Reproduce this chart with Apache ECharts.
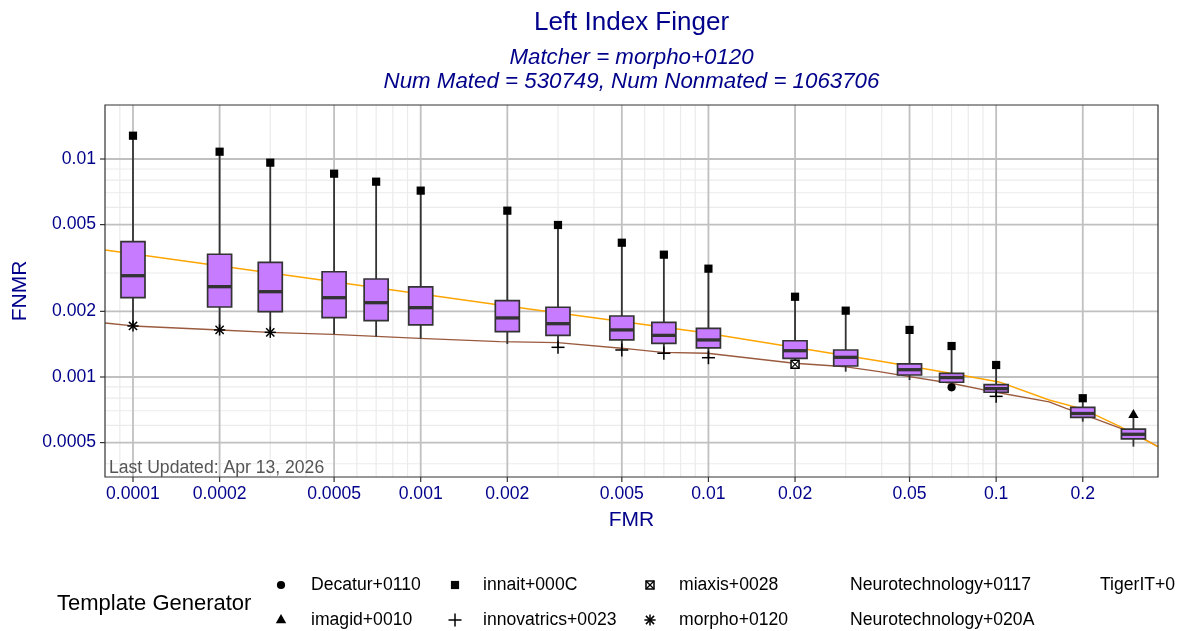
<!DOCTYPE html>
<html>
<head>
<meta charset="utf-8">
<script src="https://cdn.jsdelivr.net/npm/echarts@6/dist/echarts.min.js"></script>
<style>html,body{margin:0;padding:0;background:#fff}#c{width:1182px;height:631px}</style>
</head>
<body>
<div id="c"></div>
<script>
// ---------------- data ----------------
const fmrLevels  = [0.0001,0.0002,0.0003,0.0005,0.0007,0.001,0.002,0.003,0.005,0.007,0.01,0.02,0.03,0.05,0.07,0.1,0.2,0.3];
const fnmrMin    = [0.001714,0.001644,0.001603,0.00157,0.00153,0.0015,0.001417,0.001368,0.00133,0.001285,0.001226,0.001143,0.001058,0.000968,0.000897,0.000815,0.000624,0.000479];
const fnmrQ1     = [0.002311,0.002094,0.001993,0.001871,0.001813,0.001733,0.001614,0.001552,0.001479,0.001427,0.001359,0.001218,0.001123,0.001021,0.000946,0.000851,0.000653,0.00052];
const fnmrMedian = [0.002915,0.002596,0.002462,0.002311,0.002192,0.00208,0.001866,0.001756,0.001644,0.001552,0.001479,0.00132,0.001231,0.00108,0.000994,0.000884,0.00068,0.000546];
const fnmrQ3     = [0.004175,0.003656,0.003358,0.00304,0.002815,0.002588,0.002239,0.002089,0.001905,0.001782,0.00167,0.001466,0.00133,0.001148,0.00104,0.000922,0.000725,0.000577];
const fnmrMax    = [0.01279,0.0108,0.00962,0.008563,0.00787,0.00716,0.005794,0.004981,0.00413,0.00364,0.00314,0.002334,0.002015,0.001644,0.001387,0.001135,0.000799,0.00067];
const minGenerator = ['morpho+0120','morpho+0120','morpho+0120','','','','','innovatrics+0023','innovatrics+0023','innovatrics+0023','innovatrics+0023','miaxis+0028','','','Decatur+0110','innovatrics+0023','',''];
const maxGenerator = ['innait+000C','innait+000C','innait+000C','innait+000C','innait+000C','innait+000C','innait+000C','innait+000C','innait+000C','innait+000C','innait+000C','innait+000C','innait+000C','innait+000C','innait+000C','innait+000C','innait+000C','imagid+0010'];

const orangeFmr  = [8.0e-5,0.00038,0.00188,0.0093,0.03924,0.0687,0.1024,0.1528,0.2004,0.2674,0.3652];
const orangeFnmr = [0.003825,0.002875,0.002139,0.001608,0.001184,0.001043,0.000949,0.000784,0.000712,0.000595,0.000479];
const brownFmr   = [8.0e-5,0.0001,0.0002005,0.000299,0.000495,0.000992,0.00188,0.00299,0.00499,0.00692,0.00992,0.0199,0.0301,0.03924,0.0499,0.0698,0.1,0.1528,0.175,0.2189,0.2696,0.3,0.3652];
const brownFnmr  = [0.001769,0.001714,0.001643,0.001603,0.00157,0.001505,0.001452,0.001437,0.001355,0.001298,0.001285,0.001156,0.001114,0.001058,0.001003,0.000936,0.000851,0.000768,0.000718,0.000646,0.000583,0.000552,0.000479];

const xMajor = [0.0001,0.0002,0.0005,0.001,0.002,0.005,0.01,0.02,0.05,0.1,0.2];
const xTickLabels = ['0.0001','0.0002','0.0005','0.001','0.002','0.005','0.01','0.02','0.05','0.1','0.2'];
const xMinor = [0.00009,0.0003,0.0004,0.0006,0.0007,0.0008,0.0009,0.003,0.004,0.006,0.007,0.008,0.009,0.03,0.04,0.06,0.07,0.08,0.09,0.3];
const yMajor = [0.0005,0.001,0.002,0.005,0.01];
const yTickLabels = ['0.0005','0.001','0.002','0.005','0.01'];
const yMinor = [0.0004,0.0006,0.0007,0.0008,0.0009,0.003,0.006,0.007,0.008,0.009];

const legendGenerators = ['Decatur+0110','imagid+0010','innait+000C','innovatrics+0023','miaxis+0028','morpho+0120','Neurotechnology+0117','Neurotechnology+020A','TigerIT+0'];

const xMin = 7.993e-5, xMax = 0.3652, yMin = 0.0003477, yMax = 0.01769;

// ---------------- styles ----------------
const FONT = '"Liberation Sans", Arial, Helvetica, sans-serif';
const BLUE = '#00008B';

function txt(text, x, y, size, color, align, valign, italic) {
  return {
    text: text, x: x, y: y, fill: color,
    font: (italic ? 'italic ' : '') + size + 'px ' + FONT,
    align: align, textAlign: align, verticalAlign: valign, textVerticalAlign: valign
  };
}

function markerShapes(gen, cx, cy) {
  const k = '#000';
  const ln = (x1, y1, x2, y2, w) => ({type: 'line', shape: {x1, y1, x2, y2}, style: {stroke: k, lineWidth: w || 1.5}});
  switch (gen) {
    case 'Decatur+0110':
      return [{type: 'circle', shape: {cx, cy, r: 4.1}, style: {fill: k}}];
    case 'imagid+0010':
      return [{type: 'polygon', shape: {points: [[cx, cy - 6.0], [cx + 5.2, cy + 3.2], [cx - 5.2, cy + 3.2]]}, style: {fill: k}}];
    case 'innait+000C':
      return [{type: 'rect', shape: {x: cx - 4.1, y: cy - 4.1, width: 8.2, height: 8.2}, style: {fill: k}}];
    case 'innovatrics+0023':
      return [ln(cx - 6.5, cy, cx + 6.5, cy), ln(cx, cy - 6.5, cx, cy + 6.5)];
    case 'miaxis+0028':
      return [{type: 'rect', shape: {x: cx - 4, y: cy - 4, width: 8, height: 8}, style: {fill: '#fff', stroke: k, lineWidth: 1.5}},
              ln(cx - 4, cy - 4, cx + 4, cy + 4, 1.2), ln(cx - 4, cy + 4, cx + 4, cy - 4, 1.2)];
    case 'morpho+0120':
      return [ln(cx - 5.6, cy, cx + 5.6, cy), ln(cx, cy - 5.6, cx, cy + 5.6),
              ln(cx - 4.1, cy - 4.1, cx + 4.1, cy + 4.1), ln(cx - 4.1, cy + 4.1, cx + 4.1, cy - 4.1)];
  }
  return [];
}

// ---------------- build series data ----------------
const boxData = fmrLevels.map((f, i) => [f, fnmrMin[i], fnmrQ1[i], fnmrMedian[i], fnmrQ3[i], fnmrMax[i]]);
const pointData = [];
fmrLevels.forEach((f, i) => {
  if (minGenerator[i]) pointData.push({value: [f, fnmrMin[i]], gen: minGenerator[i]});
  if (maxGenerator[i]) pointData.push({value: [f, fnmrMax[i]], gen: maxGenerator[i]});
});
const pointGen = pointData.map(d => d.gen);

const chart = echarts.init(document.getElementById('c'), null, {renderer: 'canvas'});

const legendSymX = [281, 455, 650, 822, 1072];
const legendTxtX = [311, 483, 679, 850, 1100];
const legendRowY = [585, 620];
const graphics = [
  {type: 'text', style: txt('Left Index Finger', 631.5, 23, 26, BLUE, 'center', 'middle')},
  {type: 'text', style: txt('Matcher = morpho+0120', 631.5, 58, 22.3, BLUE, 'center', 'middle', true)},
  {type: 'text', style: txt('Num Mated = 530749, Num Nonmated = 1063706', 631.5, 82, 22.3, BLUE, 'center', 'middle', true)},
  {type: 'text', z: 50, style: txt('Last Updated: Apr 13, 2026', 109, 468, 17.6, '#555555', 'left', 'middle')},
  {type: 'text', style: txt('Template Generator', 57, 604, 22, '#000', 'left', 'middle')}
];
legendGenerators.forEach((g, i) => {
  const col = Math.floor(i / 2), row = i % 2;
  graphics.push({type: 'text', style: txt(g, legendTxtX[col], legendRowY[row], 17.6, '#000', 'left', 'middle')});
  const shapes = markerShapes(g, legendSymX[col], legendRowY[row]);
  if (shapes.length) graphics.push({type: 'group', children: shapes});
});

const option = {
  animation: false,
  backgroundColor: '#ffffff',
  grid: {left: 105, top: 105, width: 1053, height: 372, show: false},
  xAxis: {
    type: 'log', logBase: 10, min: xMin, max: xMax,
    axisLine: {show: false}, axisTick: {show: false}, axisLabel: {show: false}, splitLine: {show: false},
    name: 'FMR', nameLocation: 'middle', nameGap: 33,
    nameTextStyle: {color: BLUE, fontSize: 21, fontFamily: FONT}
  },
  yAxis: {
    type: 'log', logBase: 10, min: yMin, max: yMax,
    axisLine: {show: false}, axisTick: {show: false}, axisLabel: {show: false}, splitLine: {show: false},
    name: 'FNMR', nameLocation: 'middle', nameGap: 74,
    nameTextStyle: {color: BLUE, fontSize: 21, fontFamily: FONT}
  },
  graphic: graphics,
  series: [
    { // grid lines
      type: 'custom', z: 1, silent: true, clip: false,
      data: [[xMin, yMin]],
      renderItem: function (params, api) {
        const cs = params.coordSys;
        const ch = [];
        const vline = (v, c, w) => { const p = api.coord([v, yMin])[0]; ch.push({type: 'line', shape: {x1: p, y1: cs.y, x2: p, y2: cs.y + cs.height}, style: {stroke: c, lineWidth: w}}); };
        const hline = (v, c, w) => { const p = api.coord([xMin, v])[1]; ch.push({type: 'line', shape: {x1: cs.x, y1: p, x2: cs.x + cs.width, y2: p}, style: {stroke: c, lineWidth: w}}); };
        xMinor.forEach(v => vline(v, '#ebebeb', 1.2));
        yMinor.forEach(v => hline(v, '#ebebeb', 1.2));
        xMajor.forEach(v => vline(v, '#c0c0c0', 1.8));
        yMajor.forEach(v => hline(v, '#c0c0c0', 1.8));
        return {type: 'group', children: ch};
      }
    },
    {
      type: 'line', z: 2, silent: true, symbol: 'none', smooth: false,
      data: brownFmr.map((f, i) => [f, brownFnmr[i]]),
      lineStyle: {color: '#9a5a3e', width: 1.3}
    },
    {
      type: 'line', z: 2, silent: true, symbol: 'none', smooth: false,
      data: orangeFmr.map((f, i) => [f, orangeFnmr[i]]),
      lineStyle: {color: '#FFA500', width: 1.4}
    },
    { // boxes
      type: 'custom', z: 3, silent: true,
      encode: {x: 0, y: [1, 2, 3, 4, 5]},
      data: boxData,
      renderItem: function (params, api) {
        const x = api.value(0);
        const lo = api.coord([x, api.value(1)]);
        const q1 = api.coord([x, api.value(2)]);
        const md = api.coord([x, api.value(3)]);
        const q3 = api.coord([x, api.value(4)]);
        const hi = api.coord([x, api.value(5)]);
        const px = lo[0], hw = 12;
        const st = {stroke: '#333333', lineWidth: 1.8};
        return {type: 'group', children: [
          {type: 'line', shape: {x1: px, y1: lo[1], x2: px, y2: q1[1]}, style: st},
          {type: 'line', shape: {x1: px, y1: q3[1], x2: px, y2: hi[1]}, style: st},
          {type: 'rect', shape: {x: px - hw, y: q3[1], width: 2 * hw, height: q1[1] - q3[1]}, style: {fill: '#C77CFF', stroke: '#333333', lineWidth: 1.7}},
          {type: 'line', shape: {x1: px - hw, y1: md[1], x2: px + hw, y2: md[1]}, style: {stroke: '#333333', lineWidth: 3.3}}
        ]};
      }
    },
    { // generator points
      type: 'custom', z: 4, silent: true,
      data: pointData.map(d => d.value),
      renderItem: function (params, api) {
        const p = api.coord([api.value(0), api.value(1)]);
        return {type: 'group', children: markerShapes(pointGen[params.dataIndex], p[0], p[1])};
      }
    },
    { // frame, ticks, tick labels
      type: 'custom', z: 5, silent: true, clip: false,
      data: [[xMin, yMin]],
      renderItem: function (params, api) {
        const cs = params.coordSys;
        const ch = [];
        ch.push({type: 'rect', shape: {x: cs.x, y: cs.y, width: cs.width, height: cs.height}, style: {fill: 'none', stroke: '#333333', lineWidth: 1.2}});
        const bottom = cs.y + cs.height;
        xMajor.forEach((v, i) => {
          const p = api.coord([v, yMin])[0];
          ch.push({type: 'line', shape: {x1: p, y1: bottom, x2: p, y2: bottom + 5}, style: {stroke: '#333333', lineWidth: 1.2}});
          ch.push({type: 'text', style: txt(xTickLabels[i], p, bottom + 8, 17.6, BLUE, 'center', 'top')});
        });
        yMajor.forEach((v, i) => {
          const p = api.coord([xMin, v])[1];
          ch.push({type: 'line', shape: {x1: cs.x - 5, y1: p, x2: cs.x, y2: p}, style: {stroke: '#333333', lineWidth: 1.2}});
          ch.push({type: 'text', style: txt(yTickLabels[i], cs.x - 9, p, 17.6, BLUE, 'right', 'middle')});
        });
        return {type: 'group', children: ch};
      }
    }
  ]
};
chart.setOption(option);
</script>
</body>
</html>
